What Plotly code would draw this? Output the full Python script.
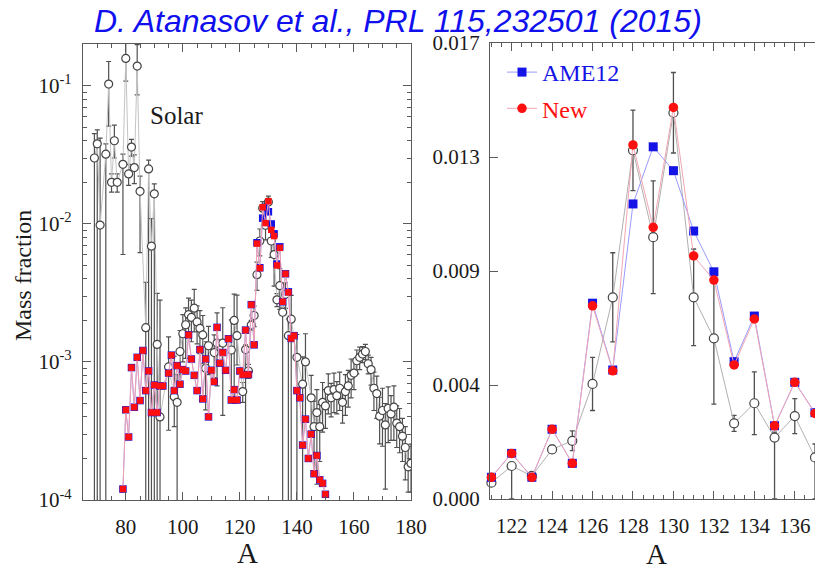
import plotly.graph_objects as go

# ---------------- data ----------------
# Solar r-process mass fractions (open circles) with asymmetric errors
solar_A = [69, 70, 71, 73, 74, 75, 76, 77, 79, 80, 81, 82, 83, 84, 85, 87, 88, 89, 90, 91, 92,
           95, 97, 98, 99, 100, 101, 102, 103, 104, 105, 106, 107, 108, 109, 111, 112, 114, 117,
           118, 119, 121, 122, 123, 124, 125, 126, 127, 128, 129, 130, 131, 132, 133, 134, 135,
           136, 137, 138, 140, 142, 143, 145, 146, 147, 148, 149, 150, 151, 152, 153, 154, 155,
           156, 157, 158, 159, 160, 161, 162, 163, 164, 165, 166, 167, 168, 169, 170, 171, 172,
           173, 174, 175, 176, 177, 178, 179, 180]
solar_val = [0.030, 0.038, 0.0098, 0.032, 0.103, 0.020, 0.040, 0.020, 0.027, 0.158, 0.023, 0.036,
             0.0256, 0.139, 0.0172, 0.00177, 0.025, 0.0069, 0.0165, 0.00134, 0.00040,
             0.00092, 0.00056, 0.00051, 0.00119, 0.00160, 0.00186, 0.00220, 0.00210, 0.00245,
             0.00195, 0.00175, 0.00157, 0.00090, 0.00131, 0.00117, 0.00137, 0.00137, 0.00122,
             0.00200, 0.00155, 0.00061, 0.00123, 0.00086, 0.00185, 0.00217, 0.00429, 0.00752,
             0.01300, 0.00976, 0.01440, 0.00752, 0.00599, 0.00282, 0.00357, 0.00229, 0.00309,
             0.00155, 0.00204, 0.00108, 0.00069, 0.00100, 0.00055, 0.00034, 0.00043, 0.00034,
             0.00051, 0.00048, 0.00062, 0.00055, 0.00063, 0.00057, 0.000645, 0.00051, 0.00061,
             0.00067, 0.00080, 0.00083, 0.00102, 0.00108, 0.00114, 0.00119, 0.00097, 0.00088,
             0.000645, 0.00059, 0.000405, 0.000445, 0.00035, 0.00046, 0.00042, 0.00047, 0.00036,
             0.00034, 0.00029, 0.00024, 0.000174, 0.000184]
solar_err_hi = [0.015, 0.010, 0.032, 0.006, 0.047, 0.003, 0.012, 0.003, 0.005, 0.060, 0.004, 0.005,
                0.006, 0.060, 0.005, 0.002, 0.004, 0.004, 0.003, 0.0018, 0.0024,
                0.0006, 0.00054, 0.0003, 0.0005, 0.0006, 0.0006, 0.0007, 0.0007, 0.0009,
                0.0006, 0.0006, 0.0006, 0.0005, 0.0005, 0.0004, 0.0009, 0.0011, 0.0008,
                0.0011, 0.0015, 0.0001, 0.0001, 0.0001, 0.00015, 0.00037, 0.00099, 0.00166,
                0.0015, 0.0021, 0.0015, 0.0018, 0.00245, 0.0003, 0.00117, 0.0002, 0.00065,
                0.0005, 0.0010, 0.0005, 0.0004, 0.0006, 0.00025, 0.00018, 0.0002, 0.00015,
                0.0002, 0.00015, 0.0002, 0.00015, 0.0002, 0.00015, 0.0002, 0.00015, 0.0002,
                0.0002, 0.00025, 0.0002, 0.0002, 0.0002, 0.00015, 0.00015, 0.00015, 0.0002,
                0.0002, 0.0002, 0.00015, 0.0002, 0.00015, 0.0002, 0.00015, 0.0002, 0.00012,
                0.00012, 0.0001, 0.0001, 0.00007, 0.00007]
solar_err_lo = [0.030, 0.038, 0.0098, 0.032, 0.052, 0.003, 0.010, 0.003, 0.021, 0.050, 0.004, 0.005,
                0.006, 0.053, 0.011, 0.00177, 0.025, 0.0069, 0.0165, 0.00134, 0.00040,
                0.0006, 0.00022, 0.00051, 0.0005, 0.0006, 0.0008, 0.0007, 0.0007, 0.0008,
                0.0006, 0.0006, 0.0006, 0.00045, 0.0005, 0.0004, 0.0007, 0.00096, 0.0006,
                0.0015, 0.0006, 0.0001, 0.00123, 0.0001, 0.00015, 0.00037, 0.00099, 0.00166,
                0.0015, 0.0021, 0.0015, 0.0018, 0.00245, 0.0003, 0.00117, 0.00229, 0.00065,
                0.00155, 0.00204, 0.00108, 0.00069, 0.0006, 0.00025, 0.00018, 0.0003, 0.00015,
                0.0002, 0.00015, 0.0002, 0.00015, 0.0002, 0.00015, 0.0002, 0.00015, 0.0002,
                0.0002, 0.00025, 0.0002, 0.0002, 0.0002, 0.00015, 0.00015, 0.00015, 0.0002,
                0.0002, 0.0002, 0.00015, 0.0002, 0.00023, 0.0002, 0.00015, 0.0002, 0.00012,
                0.00012, 0.0001, 0.0001, 0.00006, 0.00007]

# Calculated r-process abundances: AME12 masses vs. new masses
r_A = [79, 80, 81, 82, 83, 84, 85, 86, 87, 88, 89, 90, 91, 92, 93, 95, 96, 97, 98, 99, 100,
       101, 102, 103, 104, 105, 106, 107, 108, 109, 110, 111, 112, 113, 114, 115, 116, 117,
       118, 119, 120, 121, 122, 123, 124, 125, 126, 127, 128, 129, 130, 131, 132, 133, 134,
       135, 136, 137, 138, 139, 140, 141, 142, 143, 144, 145, 146, 147, 148, 149, 150]
ame12 = [1.2e-4, 4.5e-4, 2.86e-4, 9.1e-4, 4.7e-4, 1.08e-3, 5.25e-4, 1.21e-3, 6.2e-4, 8.6e-4,
         4.3e-4, 6.8e-4, 4.3e-4, 6.7e-4, 6.7e-4, 8.3e-4, 1.12e-3, 6.2e-4, 9.4e-4, 6.9e-4, 8.8e-4,
         8.6e-4, 1.57e-3, 1.05e-3, 8.0e-4, 6.2e-4, 1.23e-3, 5.4e-4, 1.05e-3, 4.0e-4, 8.7e-4,
         7.2e-4, 1.78e-3, 9.8e-4, 1.17e-3, 8.7e-4, 1.47e-3, 5.3e-4, 6.3e-4, 5.3e-4, 8.6e-4,
         8.1e-4, 1.70e-3, 8.1e-4, 2.60e-3, 1.33e-3, 7.30e-3, 4.81e-3, 1.10e-2, 1.313e-2,
         1.224e-2, 9.99e-3, 8.47e-3, 5.12e-3, 6.82e-3, 2.73e-3, 4.35e-3, 3.22e-3, 1.48e-3,
         1.55e-3, 6.2e-4, 5.5e-4, 2.5e-4, 3.85e-4, 2.0e-4, 3.0e-4, 1.55e-4, 2.1e-4, 1.4e-4,
         1.32e-4, 1.1e-4]
new = [1.2e-4, 4.5e-4, 2.86e-4, 9.1e-4, 4.7e-4, 1.08e-3, 5.25e-4, 1.21e-3, 6.2e-4, 8.6e-4,
       4.3e-4, 6.8e-4, 4.3e-4, 6.7e-4, 6.7e-4, 8.3e-4, 1.12e-3, 6.2e-4, 9.4e-4, 6.9e-4, 8.8e-4,
       8.6e-4, 1.57e-3, 1.05e-3, 8.0e-4, 6.2e-4, 1.23e-3, 5.4e-4, 1.05e-3, 4.0e-4, 8.7e-4,
       7.2e-4, 1.78e-3, 9.8e-4, 1.17e-3, 8.7e-4, 1.47e-3, 5.3e-4, 6.3e-4, 5.3e-4, 8.6e-4,
       8.1e-4, 1.70e-3, 8.1e-4, 2.60e-3, 1.33e-3, 7.20e-3, 4.78e-3, 1.32e-2, 1.013e-2,
       1.46e-2, 9.06e-3, 8.16e-3, 5.00e-3, 6.71e-3, 2.73e-3, 4.35e-3, 3.19e-3, 1.48e-3,
       1.55e-3, 6.2e-4, 5.5e-4, 2.5e-4, 3.85e-4, 2.0e-4, 3.0e-4, 1.55e-4, 2.1e-4, 1.4e-4,
       1.32e-4, 1.1e-4]

left_xticks = [80, 100, 120, 140, 160, 180]
left_yticks = [1e-4, 1e-3, 1e-2, 1e-1]
left_yticktext = ["10<sup>-4</sup>", "10<sup>-3</sup>", "10<sup>-2</sup>", "10<sup>-1</sup>"]
right_xticks = [122, 124, 126, 128, 130, 132, 134, 136]
right_yticks = [0.0, 0.00425, 0.0085, 0.01275, 0.017]
right_yticktext = ["0.000", "0.004", "0.009", "0.013", "0.017"]

# ---------------- styling ----------------
SERIF = "Liberation Serif"
AXC = "#5a5a5a"
TXT = "#1a1a1a"
GREY_LINE = "#c4c4c4"
ERR_C = "#505050"
BLUE = "#1414e6"
RED = "#ff1010"

W, H = 815, 570
def px(x):
    return x / W
def py(y):
    return (H - y) / H

# lower error bars that reach zero run off the bottom of the plot
lo_left = [min(lo, v - 1e-7) for v, lo in zip(solar_val, solar_err_lo)]

fig = go.Figure()

# ---- left panel (log) ----
fig.add_trace(go.Scatter(
    x=solar_A, y=solar_val, mode="lines+markers", xaxis="x", yaxis="y", showlegend=False,
    line=dict(color=GREY_LINE, width=1),
    marker=dict(symbol="circle", size=8, color="white", line=dict(color="#444", width=1.2)),
    error_y=dict(type="data", symmetric=False, array=solar_err_hi, arrayminus=lo_left,
                 color=ERR_C, thickness=1.2, width=2.5),
))
fig.add_trace(go.Scatter(
    x=r_A, y=ame12, mode="lines+markers", xaxis="x", yaxis="y", showlegend=False,
    line=dict(color="#a0a0ff", width=1),
    marker=dict(symbol="square", size=7.5, color=BLUE, line=dict(width=0)),
))
fig.add_trace(go.Scatter(
    x=r_A, y=new, mode="lines+markers", xaxis="x", yaxis="y", showlegend=False,
    line=dict(color="#f0a0b0", width=1),
    marker=dict(symbol="square", size=6.5, color=RED, line=dict(width=0)),
))

# ---- right panel (linear, zoom on A=130 peak) ----
RX = (120.93, 137.0)
sel = [i for i, a in enumerate(solar_A) if 121 <= a <= 137]
rsel = [i for i, a in enumerate(r_A) if 121 <= a <= 137]

fig.add_trace(go.Scatter(
    x=[solar_A[i] for i in sel], y=[solar_val[i] for i in sel],
    mode="lines+markers", xaxis="x2", yaxis="y2", showlegend=False, cliponaxis=False,
    line=dict(color="#b0b0b0", width=1),
    marker=dict(symbol="circle", size=9, color="white", line=dict(color="#444", width=1.2)),
    error_y=dict(type="data", symmetric=False,
                 array=[solar_err_hi[i] for i in sel],
                 arrayminus=[min(solar_err_lo[i], solar_val[i]) for i in sel],
                 color=ERR_C, thickness=1.3, width=2.5),
))
fig.add_trace(go.Scatter(
    x=[r_A[i] for i in rsel], y=[ame12[i] for i in rsel],
    mode="lines+markers", xaxis="x2", yaxis="y2", cliponaxis=False,
    name='<span style="color:#1414e6">AME12</span>', legendgroup="a",
    line=dict(color="#9a9aff", width=1),
    marker=dict(symbol="square", size=9, color=BLUE, line=dict(width=0)),
))
fig.add_trace(go.Scatter(
    x=[r_A[i] for i in rsel], y=[new[i] for i in rsel],
    mode="lines+markers", xaxis="x2", yaxis="y2", cliponaxis=False,
    name='<span style="color:#ff1010">New</span>', legendgroup="b",
    line=dict(color="#f2a6b4", width=1),
    marker=dict(symbol="circle", size=9.5, color=RED, line=dict(width=0)),
))

tickfont = dict(family=SERIF, size=21, color=TXT)
common = dict(showline=True, linecolor=AXC, linewidth=1.2, ticks="inside", tickcolor=AXC,
              tickwidth=1.1, showgrid=False, zeroline=False, tickfont=tickfont,
              automargin=False)

def label(text, x, y, size, color=TXT, family=SERIF, angle=0):
    return dict(text=text, x=px(x), y=py(y), xref="paper", yref="paper", showarrow=False,
                xanchor="center", yanchor="middle", textangle=angle,
                font=dict(family=family, size=size, color=color))

fig.update_layout(
    width=W, height=H, margin=dict(l=0, r=0, t=0, b=0, pad=0, autoexpand=False),
    paper_bgcolor="white", plot_bgcolor="white",
    xaxis=dict(domain=[px(83), px(411)], anchor="y", range=[65, 180],
               tickmode="array", tickvals=left_xticks, ticklen=8, mirror="ticks",
               ticklabelstandoff=8,
               minor=dict(ticks="inside", ticklen=4, dtick=5, tick0=0, tickcolor=AXC),
               **common),
    yaxis=dict(domain=[py(500), py(44)], anchor="x", type="log", range=[-4, -0.697],
               tickmode="array", tickvals=left_yticks, ticktext=left_yticktext, ticklen=8,
               mirror="ticks", ticklabelstandoff=6,
               minor=dict(ticks="inside", ticklen=4, tickcolor=AXC,
                          tickvals=[m * 10 ** e for e in (-4, -3, -2, -1) for m in range(2, 10)]),
               **common),
    xaxis2=dict(domain=[px(490), 1.0], anchor="y2", range=list(RX),
                tickmode="array", tickvals=right_xticks, ticklen=8, mirror="ticks",
                ticklabelstandoff=8,
                minor=dict(ticks="inside", ticklen=4, dtick=0.5, tick0=0, tickcolor=AXC),
                **common),
    yaxis2=dict(domain=[py(499), py(43)], anchor="x2", range=[0, 0.017],
                tickmode="array", tickvals=right_yticks, ticktext=right_yticktext, ticklen=8,
                mirror=False, ticklabelstandoff=5, **common),
    legend=dict(x=px(502), y=py(50), xanchor="left", yanchor="top", bgcolor="rgba(0,0,0,0)",
                font=dict(family=SERIF, size=24), tracegroupgap=2, itemwidth=30),
    annotations=[
        label("<i>D. Atanasov et al., PRL 115,232501 (2015)</i>", 398, 21, 32,
              color="#1010ee", family="Liberation Sans"),
        label("Solar", 176, 116, 25),
        label("Mass fraction", 23, 276, 24, angle=-90),
        label("A", 247, 553, 29),
        label("A", 656, 554, 29),
    ],
)

fig.write_html("out.html")
